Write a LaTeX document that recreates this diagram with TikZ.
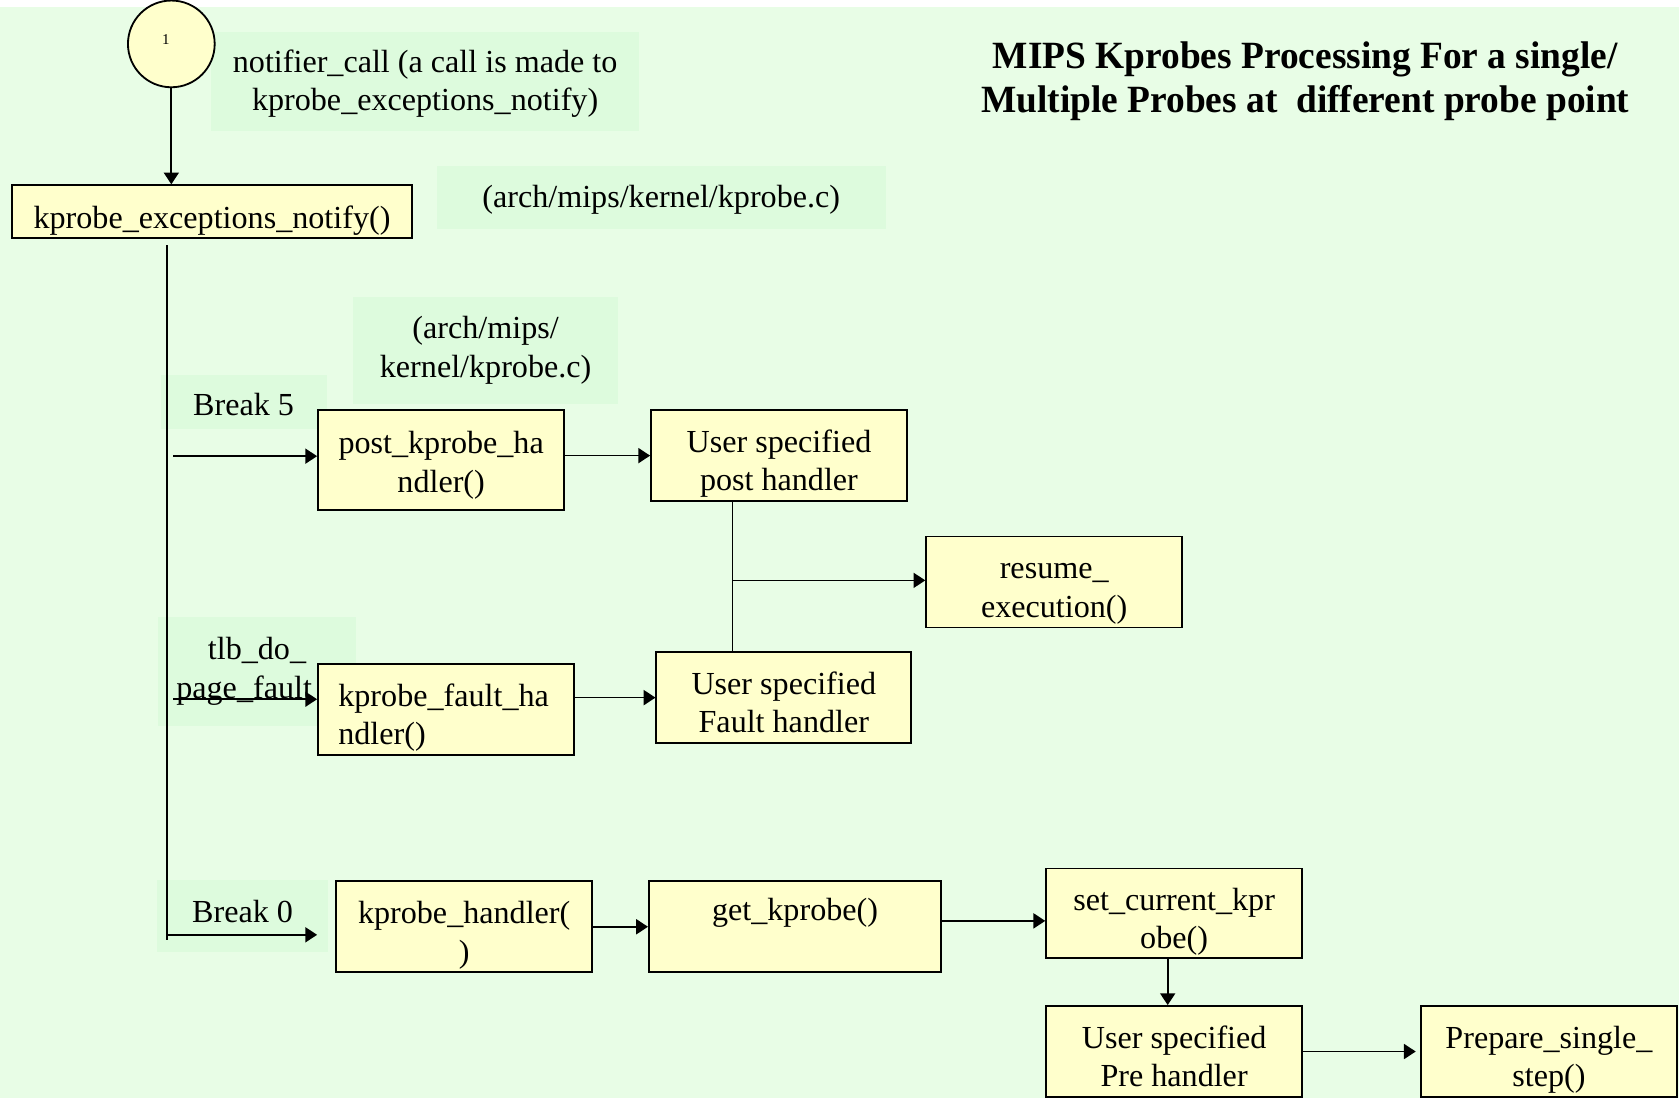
\documentclass[tikz,border=0pt]{standalone}
\usepackage{fontspec}
\setmainfont{Liberation Serif}
\usetikzlibrary{arrows.meta,calc}
\definecolor{pagebg}{RGB}{232,253,230}
\definecolor{notebg}{RGB}{221,251,221}
\definecolor{boxfill}{RGB}{255,255,204}
\newcommand{\bodyfont}{\fontsize{30}{36}\selectfont}

\begin{document}
\begin{tikzpicture}[x=1pt,y=-1pt,
  box/.style={draw, line width=1.7pt, fill=boxfill, inner sep=0pt, font=\bodyfont, align=center},
  note/.style={fill=notebg, inner sep=0pt, font=\bodyfont, align=center},
  textpos/.style 2 args={text height=#1, text depth=#2},
  twolines/.style={textpos={66pt}{0pt}},
  flow/.style={line width=1.6pt, -{Triangle[length=11pt,width=14pt]}},
  wire/.style={line width=1.6pt}]
\useasboundingbox (0,0) rectangle (1568,1025);
\fill[white] (0,0) rectangle (1568,1025);
\fill[pagebg] (0,7) rectangle (1568,1025);

% shaded annotation panels
\node[note, minimum width=400pt, minimum height=92pt, textpos={55pt}{0pt}] (ncall) at (397,76)
  {notifier\_call (a call is made to\\kprobe\_exceptions\_notify)};
\node[note, minimum width=419pt, minimum height=59pt, textpos={21pt}{3pt}] (src1) at (617.5,184.5)
  {(arch/mips/kernel/kprobe.c)};
\node[note, minimum width=247pt, minimum height=100pt] (src2) at (453.5,327)
  {(arch/mips/\\kernel/kprobe.c)};
\node[note, minimum width=155pt, minimum height=51pt, textpos={24.5pt}{0pt}] (brk5) at (227.5,375.5)
  {Break 5};
\node[note, minimum width=184pt, minimum height=102pt] (tlb) at (240,627)
  {tlb\_do\_\\page\_fault\rule{24pt}{0pt}};
\node[note, minimum width=159pt, minimum height=67pt, textpos={21pt}{8.5pt}] (brk0) at (226.5,855.5)
  {Break 0};

% heading
\node[font=\fontsize{36}{41}\selectfont\bfseries, align=center, inner sep=0pt] (title) at (1219,76)
  {\scalebox{0.97}[1]{MIPS Kprobes Processing For a single/}\\
   \scalebox{0.97}[1]{Multiple Probes at\ \ different probe point}};

% entry point
\node[draw, circle, line width=1.7pt, fill=boxfill, minimum size=81pt, inner sep=0pt,
  label={[font=\fontsize{14}{16}\selectfont, inner sep=0pt, xshift=-5pt, yshift=4pt]center:1}] (start) at (160,41) {};

% function boxes
\node[box, minimum width=374pt, minimum height=49pt, textpos={31pt}{0pt}] (notify) at (198,197.5) {kprobe\_exceptions\_notify()};
\node[box, minimum width=230pt, minimum height=93pt, textpos={60pt}{0pt}] (posth) at (412,429.5) {post\_kprobe\_ha\\ndler()};
\node[box, minimum width=239pt, minimum height=85pt, twolines] (userpost) at (727.5,425.5) {User specified\\post handler};
\node[box, minimum width=239pt, minimum height=85pt, twolines] (resume) at (984.5,543.5) {resume\_\\execution()};
\node[box, minimum width=239pt, minimum height=85pt, textpos={21pt}{27pt}, text width=201pt, align=left] (faulth) at (416.5,662.5) {kprobe\_fault\_ha\\ndler()};
\node[box, minimum width=238pt, minimum height=85pt, twolines] (userfault) at (732,651.5) {User specified\\Fault handler};
\node[box, minimum width=239pt, minimum height=85pt, twolines] (kph) at (433.5,865.5) {kprobe\_handler(\\)};
\node[box, minimum width=273pt, minimum height=85pt, textpos={21pt}{32pt}] (getkp) at (742.5,865.5) {get\_kprobe()};
\node[box, minimum width=239pt, minimum height=84pt, twolines] (setcur) at (1096.5,853) {set\_current\_kpr\\obe()};
\node[box, minimum width=239pt, minimum height=85pt, twolines] (userpre) at (1096.5,982) {User specified\\Pre handler};
\node[box, minimum width=239pt, minimum height=85pt, twolines] (single) at (1446.5,982) {Prepare\_single\_\\step()};

% connectors
\draw[flow] (start.south) -- (start.south |- notify.north);

\coordinate (trunktop) at (156,229);
\coordinate (trunkbot) at (156,878);
\draw[wire] (trunktop) -- (trunkbot);

\coordinate (b5from) at (162,426);
\draw[flow] (b5from) -- (b5from -| posth.west);
\draw[flow] (userpost.west -| posth.east) -- (userpost.west);

\coordinate (join) at (684,542);
\draw[wire] (join |- userpost.south) -- (join |- userfault.north);
\draw[flow] (join) -- (join -| resume.west);

\coordinate (tlbfrom) at (162,653);
\draw[flow] (tlbfrom) -- (tlbfrom -| faulth.west);
\draw[flow] (userfault.west -| faulth.east) -- (userfault.west);

\coordinate (b0from) at (156,873);
\coordinate (b0to) at ($(b0from -| kph.west)+(-17,0)$);
\draw[flow] (b0from) -- (b0to);
\draw[flow] (kph.east) -- (kph.east -| getkp.west);
\coordinate (gkout) at ($(getkp.east)+(-2,-5.5)$);
\draw[flow] (gkout) -- (gkout -| setcur.west);
\coordinate (scout) at ($(setcur.south)+(-6,0)$);
\draw[flow] (scout) -- (scout |- userpre.north);
\coordinate (psin) at ($(userpre.east -| single.west)+(-4,0)$);
\draw[flow] (userpre.east) -- (psin);
\end{tikzpicture}
\end{document}
